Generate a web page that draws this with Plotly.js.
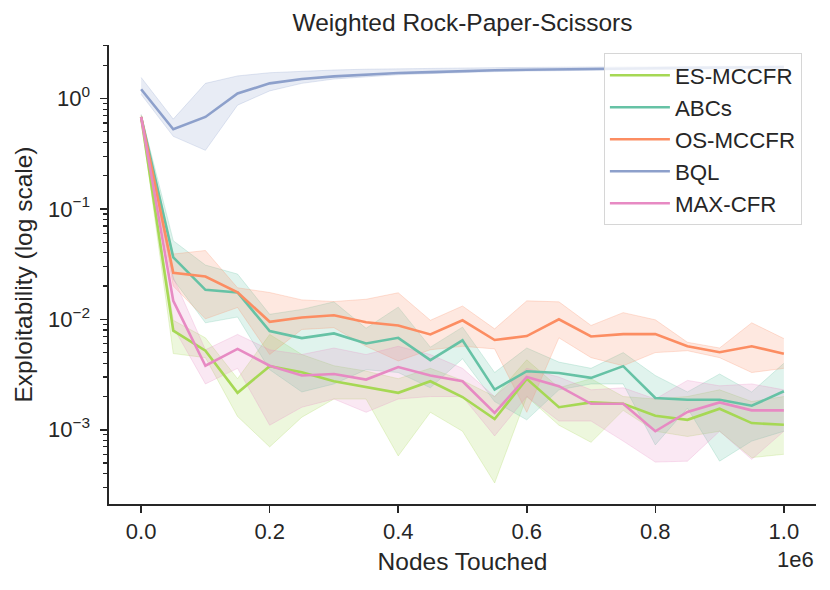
<!DOCTYPE html>
<html>
<head>
<meta charset="utf-8">
<script src="https://cdn.plot.ly/plotly-3.0.1.min.js"></script>
<style>
  html, body { margin: 0; padding: 0; background: #ffffff; }
  #chart { width: 830px; height: 590px; }
</style>
</head>
<body>
<div id="chart"></div>
<script>
// ---- data ----
const nodes = [0, 50000, 100000, 150000, 200000, 250000, 300000, 350000, 400000, 450000, 500000,
               550000, 600000, 650000, 700000, 750000, 800000, 850000, 900000, 950000, 1000000];

const seriesNames = ["ES-MCCFR", "ABCs", "OS-MCCFR", "BQL", "MAX-CFR"];

const esMean  = [0.68, 0.0079, 0.0052, 0.00216, 0.00377, 0.00332, 0.00275, 0.00243, 0.00216, 0.00275, 0.00198,
                 0.00125, 0.00289, 0.0016, 0.00177, 0.00172, 0.00134, 0.00123, 0.00155, 0.00115, 0.00111];
const esUpper = [0.70, 0.0098, 0.0068, 0.0029, 0.0073, 0.0048, 0.0038, 0.0034, 0.0029, 0.0036, 0.0028,
                 0.0020, 0.0043, 0.0024, 0.0029, 0.0020, 0.0019, 0.0020, 0.0023, 0.0018, 0.0020];
const esLower = [0.66, 0.0049, 0.0045, 0.00132, 0.0007, 0.0013, 0.0019, 0.0019, 0.00058, 0.00144, 0.00097,
                 0.00033, 0.0020, 0.0011, 0.00077, 0.0015, 0.00097, 0.00087, 0.00097, 0.00056, 0.0006];

const abcMean  = [0.68, 0.0364, 0.0185, 0.0175, 0.00783, 0.00676, 0.00746, 0.00605, 0.0068, 0.00427, 0.00645,
                  0.00231, 0.00339, 0.00327, 0.00295, 0.00377, 0.00194, 0.00187, 0.00187, 0.00165, 0.00223];
const abcUpper = [0.72, 0.0515, 0.031, 0.0257, 0.0111, 0.0123, 0.0144, 0.0083, 0.0129, 0.0056, 0.0085,
                  0.0033, 0.0055, 0.0041, 0.0036, 0.0050, 0.0031, 0.0022, 0.0032, 0.0022, 0.0040];
const abcLower = [0.64, 0.023, 0.0093, 0.0105, 0.0035, 0.0022, 0.0026, 0.0035, 0.0033, 0.0024, 0.0044,
                  0.0018, 0.00123, 0.0023, 0.0026, 0.0026, 0.00073, 0.00157, 0.00052, 0.00079, 0.00097];

const osMean  = [0.68, 0.0264, 0.0244, 0.0176, 0.0095, 0.0104, 0.0109, 0.0094, 0.0088, 0.0073, 0.0098,
                 0.0065, 0.00705, 0.0100, 0.0070, 0.00735, 0.00735, 0.0057, 0.00504, 0.0057, 0.00488];
const osUpper = [0.70, 0.039, 0.042, 0.0193, 0.0175, 0.015, 0.0145, 0.0152, 0.0174, 0.0098, 0.0132,
                 0.0082, 0.0147, 0.0144, 0.0088, 0.0115, 0.0099, 0.0062, 0.0055, 0.0093, 0.0067];
const osLower = [0.66, 0.020, 0.0101, 0.0128, 0.0048, 0.0081, 0.0084, 0.0057, 0.0042, 0.0053, 0.0057,
                 0.0054, 0.00144, 0.0068, 0.0045, 0.0038, 0.0050, 0.0052, 0.0045, 0.0033, 0.0036];

const bqlMean  = [1.21, 0.526, 0.68, 1.11, 1.37, 1.50, 1.585, 1.65, 1.70, 1.73, 1.77,
                  1.80, 1.82, 1.84, 1.85, 1.87, 1.88, 1.89, 1.90, 1.91, 1.92];
const bqlUpper = [1.55, 0.65, 1.37, 1.60, 1.71, 1.77, 1.81, 1.84, 1.86, 1.87, 1.89,
                  1.90, 1.91, 1.92, 1.93, 1.94, 1.95, 1.95, 1.96, 1.97, 1.97];
const bqlLower = [1.09, 0.454, 0.339, 0.87, 1.17, 1.37, 1.50, 1.58, 1.64, 1.68, 1.72,
                  1.75, 1.77, 1.79, 1.80, 1.82, 1.83, 1.84, 1.85, 1.86, 1.87];

const maxMean  = [0.68, 0.0147, 0.0038, 0.0054, 0.0038, 0.0031, 0.0032, 0.00285, 0.0037, 0.0031, 0.00275,
                  0.00142, 0.0030, 0.00248, 0.00172, 0.00172, 0.00097, 0.00145, 0.00177, 0.0015, 0.0015];
const maxUpper = [0.70, 0.024, 0.0053, 0.0073, 0.0053, 0.0048, 0.0055, 0.0048, 0.0057, 0.0048, 0.0036,
                  0.0020, 0.0036, 0.0030, 0.0023, 0.0024, 0.0019, 0.0028, 0.0025, 0.0026, 0.0023];
const maxLower = [0.66, 0.0085, 0.0026, 0.0036, 0.0011, 0.0016, 0.0019, 0.00144, 0.0019, 0.0020, 0.0020,
                  0.00088, 0.0020, 0.0012, 0.0012, 0.00079, 0.00051, 0.00052, 0.00097, 0.00054, 0.00097];

const xTickVals = [0, 200000, 400000, 600000, 800000, 1000000];
const xTickText = ["0.0", "0.2", "0.4", "0.6", "0.8", "1.0"];
const yTickVals = [0.001, 0.01, 0.1, 1];
const yTickText = ["10<sup>\u22123</sup>", "10<sup>\u22122</sup>", "10<sup>\u22121</sup>", "10<sup>0</sup>"];

// ---- styling ----
const colors = ["#a6d854", "#66c2a5", "#fc8d62", "#8da0cb", "#e78ac3"];
const fills  = ["rgba(166,216,84,0.2)", "rgba(102,194,165,0.2)", "rgba(252,141,98,0.2)",
                "rgba(141,160,203,0.2)", "rgba(231,138,195,0.2)"];
const edges  = ["rgba(166,216,84,0.25)", "rgba(102,194,165,0.25)", "rgba(252,141,98,0.25)",
                "rgba(141,160,203,0.25)", "rgba(231,138,195,0.25)"];
const means  = [esMean, abcMean, osMean, bqlMean, maxMean];
const uppers = [esUpper, abcUpper, osUpper, bqlUpper, maxUpper];
const lowers = [esLower, abcLower, osLower, bqlLower, maxLower];

const traces = [];
// bands first (drawn beneath all lines, like matplotlib zorder)
for (let k = 0; k < seriesNames.length; k++) {
  traces.push({
    x: nodes, y: uppers[k], type: "scatter", mode: "lines",
    line: {width: 1, color: edges[k]}, showlegend: false, hoverinfo: "skip"
  });
  traces.push({
    x: nodes, y: lowers[k], type: "scatter", mode: "lines", fill: "tonexty",
    fillcolor: fills[k], line: {width: 1, color: edges[k]}, showlegend: false, hoverinfo: "skip"
  });
}
for (let k = 0; k < seriesNames.length; k++) {
  traces.push({
    x: nodes, y: means[k], type: "scatter", mode: "lines", name: seriesNames[k],
    legendgroup: "g" + k,
    line: {width: 2.6, color: colors[k]}
  });
}

// minor tick positions for the log axis (2..9 of each decade)
const minorVals = [];
for (let e = -4; e <= 0; e++) {
  for (let m = 2; m <= 9; m++) minorVals.push(m * Math.pow(10, e));
}

const FONT = "Liberation Sans, Arial, Helvetica, sans-serif";
const INK = "#262626";

const layout = {
  width: 830, height: 590,
  margin: {l: 109, r: 14, t: 45, b: 86},
  paper_bgcolor: "#ffffff", plot_bgcolor: "#ffffff",
  font: {family: FONT, color: INK, size: 22},
  title: {
    text: "Weighted Rock-Paper-Scissors",
    font: {family: FONT, size: 24.5, color: INK},
    x: 0.5, xref: "paper", xanchor: "center",
    y: 1 - 22 / 590, yref: "container", yanchor: "middle"
  },
  xaxis: {
    type: "linear", range: [-50000, 1050000],
    tickmode: "array", tickvals: xTickVals, ticktext: xTickText,
    ticks: "outside", ticklen: 7, tickwidth: 1.6, tickcolor: INK,
    ticklabelstandoff: 0,
    showline: true, linecolor: INK, linewidth: 1.6, mirror: false,
    showgrid: false, zeroline: false,
    tickfont: {family: FONT, size: 22, color: INK},
    title: {text: "Nodes Touched", font: {family: FONT, size: 24.5, color: INK}, standoff: 10}
  },
  yaxis: {
    type: "log", range: [-3.672, 0.484],
    tickmode: "array", tickvals: yTickVals, ticktext: yTickText,
    ticks: "outside", ticklen: 7, tickwidth: 1.6, tickcolor: INK,
    ticklabelstandoff: 6,
    minor: {tickmode: "array", tickvals: minorVals, ticks: "outside", ticklen: 4, tickwidth: 1.2, tickcolor: INK, showgrid: false},
    showline: true, linecolor: INK, linewidth: 1.6, mirror: false,
    showgrid: false, zeroline: false,
    tickfont: {family: FONT, size: 22, color: INK},
    title: {text: "Exploitability (log scale)", font: {family: FONT, size: 24.5, color: INK}, standoff: 8}
  },
  legend: {
    x: 0.70, y: 0.982, xanchor: "left", yanchor: "top",
    bgcolor: "rgba(255,255,255,0.8)", bordercolor: "#d6d6d6", borderwidth: 1,
    font: {family: FONT, size: 22.3, color: INK},
    tracegroupgap: 4, traceorder: "normal", itemwidth: 60
  },
  annotations: [{
    text: "1e6", xref: "paper", yref: "paper", x: 1, y: -0.121,
    xanchor: "right", yanchor: "middle", showarrow: false,
    font: {family: FONT, size: 22, color: INK}
  }],
  showlegend: true
};

Plotly.newPlot("chart", traces, layout, {displayModeBar: false, staticPlot: true});
</script>
</body>
</html>
